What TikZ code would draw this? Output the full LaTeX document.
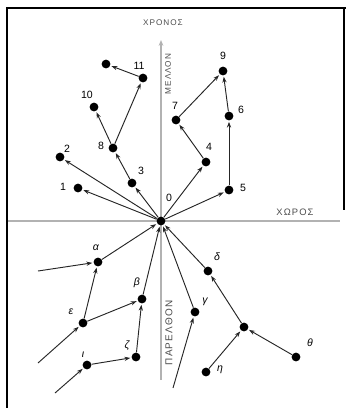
\documentclass[tikz,border=0pt]{standalone}
\usepackage{fontspec}
\setmainfont{Liberation Sans}
\newfontfamily\axfont[LetterSpace=12]{Liberation Sans}
\usepackage{tikz}
\usetikzlibrary{arrows.meta}

\begin{document}
\begin{tikzpicture}[x=0.03cm,y=-0.03cm,
    dot/.style={circle,fill=black,inner sep=0pt,minimum size=7.5pt},
    num/.style={font=\small,inner sep=0pt},
    ev/.style={font=\small\itshape,inner sep=0pt},
    axis/.style={line width=1.1pt,gray!60},
    axlbl/.style={font=\axfont\fontsize{7}{8}\selectfont,text=black!70,inner sep=0pt},
    arr/.style={-{Stealth[length=5pt,width=3.6pt]},line width=0.8pt,black!85,shorten >=1pt}]
        \useasboundingbox (0,0) rectangle (346,408);
        % Frame
        \draw[line width=2pt] (7,408) -- (7,8) -- (346,8);
        \draw[line width=1pt] (344,8) -- (344,210);
        % Axes
        \coordinate (xl) at (8,221);
        \coordinate (xr) at (340,221);
        \coordinate (yb) at (161,380);
        \coordinate (yt) at (161,40);
        \draw[axis] (xl) -- (xr);
        \draw[axis,-{Stealth[length=5pt,width=4pt]}] (yb) -- (yt);
        \node[axlbl] (time) at (163,23) {ΧΡΟΝΟΣ};
        \node[axlbl,font=\axfont\fontsize{8}{9}\selectfont] (space) at (295,212) {ΧΩΡΟΣ};
        \node[axlbl] (future) [rotate=90] at (168,74) {ΜΕΛΛΟΝ};
        \node[axlbl,font=\axfont\fontsize{8.5}{9}\selectfont] (past) [rotate=90] at (169,333) {ΠΑΡΕΛΘΟΝ};
        % Origin
        \node[dot] (O) at (161,221) {};
        \node[num] (lO) at (169,198) {0};
        % Future events
        \node[dot] (e1) at (78,188) {};   \node[num] (l1) at (63,187) {1};
        \node[dot] (e2) at (60,157) {};   \node[num] (l2) at (67,149) {2};
        \node[dot] (e3) at (132,183) {};  \node[num] (l3) at (141,171) {3};
        \node[dot] (e4) at (206,162) {};  \node[num] (l4) at (209,147) {4};
        \node[dot] (e5) at (229,190) {};  \node[num] (l5) at (243,188) {5};
        \node[dot] (e6) at (229,116) {};  \node[num] (l6) at (241,110) {6};
        \node[dot] (e7) at (176,120) {};  \node[num] (l7) at (175,106) {7};
        \node[dot] (e8) at (113,148) {};  \node[num] (l8) at (101,146) {8};
        \node[dot] (e9) at (223,71) {};   \node[num] (l9) at (223,56) {9};
        \node[dot] (e10) at (94,107) {};  \node[num] (l10) at (87,95) {10};
        \node[dot] (e11) at (143,78) {};  \node[num] (l11) at (139,66) {11};
        \node[dot] (ex) at (106,64) {};
        % Past events
        \node[dot] (a) at (98,262) {};    \node[ev] (la) at (96,248) {α};
        \node[dot] (b) at (142,299) {};   \node[ev] (lb) at (137,283) {β};
        \node[dot] (g) at (195,312) {};   \node[ev] (lg) at (205,302) {γ};
        \node[dot] (d) at (208,271) {};   \node[ev] (ld) at (217,257) {δ};
        \node[dot] (ep) at (83,323) {};   \node[ev] (lep) at (71,312) {ε};
        \node[dot] (z) at (136,357) {};   \node[ev] (lz) at (127,346) {ζ};
        \node[dot] (h) at (206,372) {};   \node[ev] (lh) at (220,370) {η};
        \node[dot] (th) at (296,357) {};  \node[ev] (lth) at (310,343) {θ};
        \node[dot] (io) at (87,365) {};   \node[ev] (lio) at (83,355) {ι};
        \node[dot] (j) at (244,327) {};
        \coordinate (fa) at (38,271);
        \coordinate (fe) at (38,363);
        \coordinate (fi) at (55,393);
        \coordinate (fg) at (173,388);
        % Future worldlines
        \draw[arr] (O) -- (e1);
        \draw[arr] (O) -- (e2);
        \draw[arr] (O) -- (e3);
        \draw[arr] (O) -- (e4);
        \draw[arr] (O) -- (e5);
        \draw[arr] (e3) -- (e8);
        \draw[arr] (e8) -- (e10);
        \draw[arr] (e8) -- (e11);
        \draw[arr] (e11) -- (ex);
        \draw[arr] (e4) -- (e7);
        \draw[arr] (e7) -- (e9);
        \draw[arr] (e5) -- (e6);
        \draw[arr] (e6) -- (e9);
        % Past worldlines
        \draw[arr] (fa) -- (a);
        \draw[arr] (ep) -- (a);
        \draw[arr] (a) -- (O);
        \draw[arr] (fe) -- (ep);
        \draw[arr] (ep) -- (b);
        \draw[arr] (z) -- (b);
        \draw[arr] (b) -- (O);
        \draw[arr] (io) -- (z);
        \draw[arr] (fi) -- (io);
        \draw[arr] (fg) -- (g);
        \draw[arr] (g) -- (O);
        \draw[arr] (j) -- (d);
        \draw[arr] (d) -- (O);
        \draw[arr] (h) -- (j);
        \draw[arr] (th) -- (j);
      \end{tikzpicture}
\end{document}
